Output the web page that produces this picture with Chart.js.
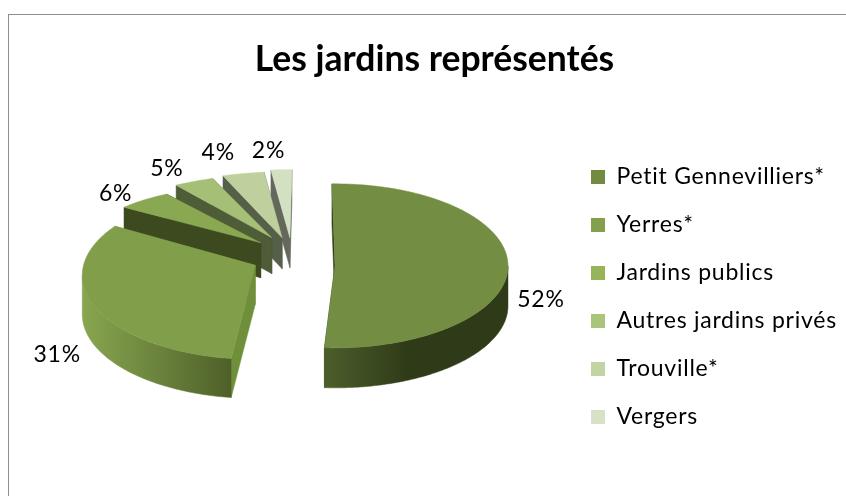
<!DOCTYPE html>
<html><head><meta charset="utf-8">
<style>
html,body{margin:0;padding:0;background:#fff;width:846px;height:496px;overflow:hidden}
#frame{position:absolute;left:8px;top:14px;width:900px;height:600px;border:1.5px solid #8e8e8e;box-sizing:border-box}
#c{position:absolute;left:0;top:0;filter:blur(0.45px)}
</style>
<script src="https://cdn.jsdelivr.net/npm/chart.js@4"></script>
</head><body>
<div id="frame"></div>
<canvas id="c" width="846" height="496"></canvas>
<script>
const titleText = "Les jardins représentés";
const categories = ["Petit Gennevilliers*","Yerres*","Jardins publics","Autres jardins privés","Trouville*","Vergers"];
const values = [52,31,6,5,4,2];

const legendColors = ["#738a42","#85a04d","#98b459","#abc47b","#c2d3a4","#d6e1c6"];
const topColors  = ["#738d42","#819e4b","#8aa852","#a5c076","#bdd09e","#d3e0c2"];
const legendText = "#000";
const edgeColors = ["#2f3b18","#6f8f3a","#3d4a20","#4e5c38","#565f48","#63675c"];
const bandStops  = [["#4c5e2b","#2f3b18"],["#88a650","#4e6029"],["#3d4a20","#3d4a20"],["#4e5c38","#4e5c38"],["#565f48","#565f48"],["#63675c","#63675c"]];
const explode = 42, squash = 0.47, rotationDeg = -2, radiusPx = 173;
const textSpacing = '0.75px';
// 3D projection tuning per slice
const apexNudge = [[-1,9.5],[-2,0],[0,-1],[0.5,-1.5],[0,1],[0,1.5]];
const ellipseDrop = [0,10,0,0,0,0];
const ry = [82,84,58,63,66,68];
const depth = [40,39,35,36,31,30];
const angleTweak = [[1,-1.7],[2.8,9],[11,8.6],[8,3.6],[3.6,3.2],[2.9,2.7]];
const labelShift = [[33,32],[-39,46],[-28,-6],[-27,-13],[-25,-21],[-13,-19]];
const paintOrder = [5,4,3,2,1,0];
const D = Math.PI/180;

function sliceGeom(el,i){
  const mid=(el.startAngle+el.endAngle)/2, d=el.options.offset;
  const ax=el.x+Math.cos(mid)*d+apexNudge[i][0];
  const ay=el.y+Math.sin(mid)*d*squash+apexNudge[i][1];
  const a0=el.startAngle+angleTweak[i][0]*D, a1=el.endAngle+angleTweak[i][1]*D;
  const ey=ay+ellipseDrop[i];
  const pt=a=>[ax+Math.cos(a)*el.outerRadius, ey+Math.sin(a)*ry[i]];
  return {ax,ay,a0,a1,pt,midA:(a0+a1)/2};
}
function arcPoints(g,a0,a1){const n=Math.max(2,Math.ceil((a1-a0)/D));const r=[];for(let k=0;k<=n;k++)r.push(g.pt(a0+(a1-a0)*k/n));return r;}
function poly(ctx,pts,fill){ctx.beginPath();pts.forEach((p,k)=>k?ctx.lineTo(p[0],p[1]):ctx.moveTo(p[0],p[1]));ctx.closePath();ctx.fillStyle=fill;ctx.fill();ctx.strokeStyle=fill;ctx.lineWidth=0.5;ctx.stroke();}
function drawSlice(ctx,el,i){
  const g=sliceGeom(el,i),h=depth[i],A=[g.ax,g.ay];
  const S=g.pt(g.a0),E=g.pt(g.a1);
  const drop=p=>[p[0],p[1]+h];
  poly(ctx,[A,E,drop(E),drop(A)],edgeColors[i]);
  poly(ctx,[A,S,drop(S),drop(A)],edgeColors[i]);
  // the outer wall is visible only where the rim faces the viewer
  const lo=Math.max(g.a0,0), hi=Math.min(g.a1,Math.PI);
  if(hi>lo){
    const rim=arcPoints(g,lo,hi);
    const xs=rim.map(p=>p[0]);
    const minX=Math.min(...xs),maxX=Math.max(...xs);
    const gr=ctx.createLinearGradient(minX,0,maxX,0);
    if(i===0){gr.addColorStop(0,bandStops[0][0]);gr.addColorStop(0.45,bandStops[0][1]);gr.addColorStop(1,bandStops[0][1]);}
    else{gr.addColorStop(0,bandStops[i][0]);gr.addColorStop(1,bandStops[i][1]);}
    poly(ctx,rim.concat(rim.slice().reverse().map(drop)),gr);
  }
  poly(ctx,[A].concat(arcPoints(g,g.a0,g.a1)),topColors[i]);
}
const pie3d={
  id:'pie3d',
  beforeUpdate(chart){chart.ctx.letterSpacing=textSpacing;},
  afterLayout(chart){
    const t=chart.titleBlock;t.left=0;t.right=869;
    if(!t.wrapped){
      const base=t.draw.bind(t);
      t.draw=(...a)=>{chart.ctx.letterSpacing='0px';base(...a);chart.ctx.letterSpacing=textSpacing;};
      t.wrapped=true;
    }
    const l=chart.legend,h=l.options.labels;
    l.left=591-h.padding;l.right=846;
    l.top=176-10.5-h.padding;l.bottom=496;
  },
  beforeDraw(chart){chart.ctx.letterSpacing=textSpacing;},
  beforeDatasetDraw(chart,args){
    const ctx=chart.ctx,meta=args.meta;
    ctx.save();
    paintOrder.forEach(i=>drawSlice(ctx,meta.data[i],i));
    ctx.fillStyle='#000';ctx.font='23px Lato';ctx.textAlign='center';ctx.textBaseline='middle';
    paintOrder.forEach(i=>{
      const g=sliceGeom(meta.data[i],i),p=g.pt(g.midA);
      ctx.fillText(values[i]+'%',p[0]+labelShift[i][0],p[1]+labelShift[i][1]);
    });
    ctx.restore();
    return false;
  }
};
new Chart(document.getElementById('c'),{
  type:'pie',
  data:{labels:categories,datasets:[{data:values,backgroundColor:legendColors,borderWidth:0,offset:explode,radius:radiusPx}]},
  options:{
    responsive:false,animation:false,rotation:rotationDeg,
    layout:{padding:{left:20,right:278,top:0,bottom:65}},
    plugins:{
      tooltip:{enabled:false},
      title:{display:true,text:titleText,color:'#000',font:{family:'Lato',size:35.5,weight:'bold'},padding:{top:38,bottom:0}},
      legend:{position:'chartArea',align:'start',labels:{boxWidth:14,boxHeight:14,padding:25,color:legendText,font:{family:'Lato',size:23}}}
    }
  },
  plugins:[pie3d]
});
</script>
</body></html>
